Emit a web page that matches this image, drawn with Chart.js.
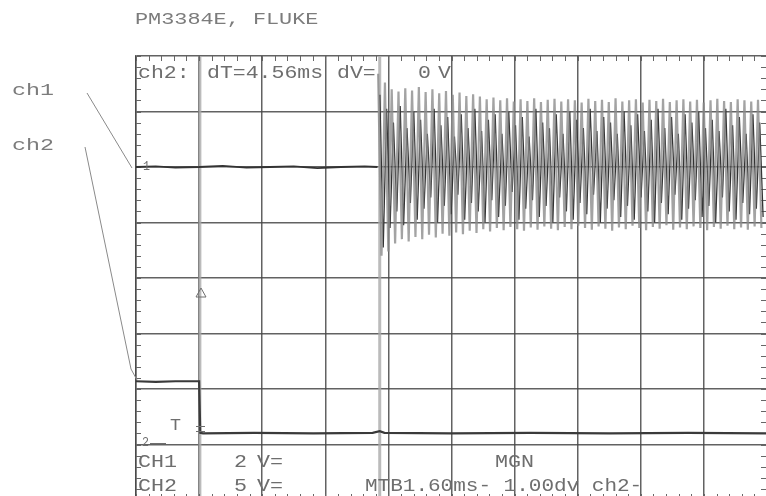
<!DOCTYPE html>
<html>
<head>
<meta charset="utf-8">
<title>PM3384E, FLUKE</title>
<script src="https://cdn.jsdelivr.net/npm/chart.js@4.4.1/dist/chart.umd.min.js"></script>
<style>
  html, body { margin: 0; padding: 0; background: #fff; overflow: hidden; }
  #wrap { position: absolute; left: 0; top: 0; width: 800px; height: 520px; }
</style>
</head>
<body>
<div id="wrap"><canvas id="scope" width="800" height="520"></canvas></div>
<script>
// Time axis in ms (MTB 1.60 ms/div), vertical in screen divisions (8 div high)
const timeTicks = [0, 1.6, 3.2, 4.8, 6.4, 8.0, 9.6, 11.2, 12.8, 14.4, 16.0];
const divMin = -4, divMax = 4;

// cursors: ch2 edge and dT = 4.56 ms later
const cursorStart = 1.62;
const cursorDelta = 4.56;

// ch1 before the burst (flat at +2 div)
const ch1FlatTimes  = [0, 0.5, 1.0, 1.6, 2.2, 2.8, 3.4, 4.0, 4.6, 5.2, 5.8, 6.12];
const ch1FlatValues = [2.0, 2.01, 1.99, 2.0, 2.02, 1.99, 2.0, 2.01, 1.98, 2.0, 2.01, 2.0];

// ch1 burst (light = gray envelope, dark = bright trace)
const burstStart = 6.14;     // ms
const burstStep = 0.086;     // ms between successive peaks (scope sample clock)
const lightTops = [3.68, 3.52, 3.40, 3.36, 3.42, 3.38, 3.44, 3.35, 3.40, 3.33, 3.37, 3.30, 3.34, 3.28, 3.31, 3.27, 3.22, 3.25, 3.20, 3.24,
  3.18, 3.22, 3.19, 3.24, 3.17, 3.21, 3.23, 3.18, 3.22, 3.20, 3.16, 3.23, 3.19, 3.21, 3.17, 3.24, 3.18, 3.20, 3.22, 3.16,
  3.21, 3.19, 3.23, 3.17, 3.20, 3.22, 3.18, 3.21, 3.16, 3.20, 3.23, 3.19, 3.17, 3.22, 3.20, 3.18, 3.21];
const lightBottoms = [0.40, 0.48, 0.62, 0.70, 0.66, 0.74, 0.70, 0.78, 0.73, 0.80, 0.76, 0.82, 0.79, 0.85, 0.81, 0.88, 0.84, 0.90, 0.86, 0.92,
  0.88, 0.85, 0.91, 0.87, 0.93, 0.89, 0.86, 0.92, 0.88, 0.94, 0.90, 0.87, 0.93, 0.89, 0.85, 0.91, 0.88, 0.94, 0.90, 0.86,
  0.92, 0.89, 0.95, 0.87, 0.91, 0.88, 0.93, 0.90, 0.86, 0.92, 0.89, 0.94, 0.88, 0.91, 0.87, 0.93, 0.90];
const darkTops = [3.30, 3.05, 2.80, 3.10, 2.70, 3.00, 2.85, 2.60, 3.05, 2.75, 2.90, 2.55, 2.95, 2.70, 3.05, 2.65, 2.85, 2.95, 2.60, 3.00,
  2.75, 2.90, 2.55, 3.05, 2.80, 2.70, 2.95, 2.60, 3.00, 2.85, 2.70, 3.05, 2.65, 2.90, 2.80, 2.60, 3.00, 2.75, 2.95, 2.65,
  2.85, 3.05, 2.70, 2.90, 2.60, 2.95, 2.80, 3.00, 2.70, 2.85, 2.65, 3.05, 2.75, 2.90, 2.60, 2.95, 2.80];
const darkBottoms = [0.55, 0.90, 1.20, 0.95, 1.35, 1.05, 1.25, 1.45, 1.00, 1.30, 1.15, 1.50, 1.05, 1.35, 1.20, 1.00, 1.40, 1.10, 1.30, 1.55,
  1.05, 1.25, 1.40, 1.10, 1.30, 1.00, 1.45, 1.20, 1.05, 1.35, 1.15, 1.50, 1.00, 1.25, 1.40, 1.10, 1.30, 1.05, 1.45, 1.20,
  1.00, 1.35, 1.15, 1.50, 1.05, 1.25, 1.40, 1.10, 1.30, 1.00, 1.45, 1.20, 1.05, 1.35, 1.15, 1.25, 1.10];

// ch2 step (5 V/div)
const ch2Times  = [0, 0.5, 1.0, 1.6, 1.63, 1.7, 3.0, 4.5, 6.0, 6.18, 6.3, 8.0, 10.0, 12.0, 14.0, 16.0];
const ch2Values = [-1.86, -1.87, -1.86, -1.86, -2.79, -2.80, -2.79, -2.80, -2.79, -2.76, -2.79, -2.80, -2.79, -2.80, -2.79, -2.80];

function zip(xs, ys) { return xs.map((x, i) => ({ x: x, y: ys[i] })); }

function burst(tops, bottoms, start) {
  const pts = [];
  tops.forEach((t, i) => {
    pts.push({ x: start + 2 * i * burstStep, y: t });
    pts.push({ x: start + (2 * i + 1) * burstStep, y: bottoms[i] });
  });
  return pts;
}

const GRID = 'rgba(70,70,70,0.85)';
const TEXT = '#7c7c7c';

// stretched monospace text like the scope print-out
function label(ctx, str, x, y, size, charW) {
  ctx.save();
  ctx.font = size + 'px "Liberation Mono"';
  const sx = charW / ctx.measureText('M').width;
  ctx.translate(x, y);
  ctx.scale(sx, 1);
  ctx.fillText(str, 0, 0);
  ctx.restore();
}

const scopeDecor = {
  id: 'scopeDecor',
  beforeDatasetsDraw(chart) {
    const ctx = chart.ctx, a = chart.chartArea;
    const xs = chart.scales.x, ys = chart.scales.y;
    ctx.save();
    // cursor lines
    ctx.strokeStyle = 'rgba(170,170,170,0.8)';
    ctx.lineWidth = 3;
    [cursorStart, cursorStart + cursorDelta].forEach(t => {
      const px = xs.getPixelForValue(t);
      ctx.beginPath(); ctx.moveTo(px, a.top); ctx.lineTo(px, a.bottom); ctx.stroke();
    });
    // minor ticks on the frame (5 per division)
    ctx.strokeStyle = '#666';
    ctx.lineWidth = 1;
    for (let i = 0; i <= 50; i++) {
      const px = Math.round(xs.getPixelForValue(i * 0.32)) + 0.5;
      ctx.beginPath();
      ctx.moveTo(px, a.top); ctx.lineTo(px, a.top + 5);
      ctx.moveTo(px, a.bottom); ctx.lineTo(px, a.bottom - 6);
      ctx.stroke();
    }
    for (let i = 0; i <= 40; i++) {
      const py = Math.round(ys.getPixelForValue(divMin + i * 0.2)) + 0.5;
      ctx.beginPath();
      ctx.moveTo(a.left, py); ctx.lineTo(a.left + 5, py);
      ctx.moveTo(a.right, py); ctx.lineTo(a.right - 6, py);
      ctx.stroke();
    }
    ctx.restore();
  },
  afterDraw(chart) {
    const ctx = chart.ctx;
    ctx.save();
    ctx.fillStyle = TEXT;
    ctx.textBaseline = 'alphabetic';
    label(ctx, 'PM3384E, FLUKE', 135, 24, 16, 13.1);
    label(ctx, 'ch1', 12, 95, 17, 14);
    label(ctx, 'ch2', 12, 150, 17, 14);

    ctx.fillStyle = '#6e6e6e';
    label(ctx, 'ch2:', 138, 78, 18, 12.9);
    label(ctx, 'dT=4.56ms', 207, 78, 18, 12.9);
    label(ctx, 'dV=', 337, 78, 18, 12.9);
    label(ctx, '0', 418, 78, 18, 12.9);
    label(ctx, 'V', 438, 78, 18, 12.9);

    label(ctx, 'CH1', 138, 467, 19, 13);
    label(ctx, '2', 234, 467, 19, 13);
    label(ctx, 'V=', 257, 467, 19, 13);
    label(ctx, 'MGN', 495, 467, 19, 13);
    label(ctx, 'CH2', 138, 491, 19, 13);
    label(ctx, '5', 234, 491, 19, 13);
    label(ctx, 'V=', 257, 491, 19, 13);
    label(ctx, 'MTB1.60ms- 1.00dv ch2-', 365, 491, 19, 12.6);

    // channel markers
    label(ctx, '1', 143, 170, 12, 7);
    label(ctx, 'T', 170, 430, 17, 11);
    label(ctx, '2', 142, 446, 12, 7);
    ctx.strokeStyle = '#6e6e6e';
    ctx.lineWidth = 1;
    ctx.beginPath(); ctx.moveTo(150, 443.5); ctx.lineTo(166, 443.5); ctx.stroke();
    // trigger marker
    ctx.beginPath(); ctx.moveTo(201, 288); ctx.lineTo(206, 297); ctx.lineTo(196, 297); ctx.closePath(); ctx.stroke();
    ctx.beginPath();
    ctx.moveTo(196, 426.5); ctx.lineTo(205, 426.5);
    ctx.moveTo(196, 431.5); ctx.lineTo(205, 431.5);
    ctx.stroke();

    // pointer lines from the channel names
    ctx.strokeStyle = '#8a8a8a';
    ctx.beginPath(); ctx.moveTo(87, 93); ctx.lineTo(132, 168); ctx.stroke();
    ctx.beginPath(); ctx.moveTo(85, 147); ctx.lineTo(131, 369); ctx.lineTo(137, 380); ctx.stroke();
    ctx.restore();
  }
};

new Chart(document.getElementById('scope'), {
  type: 'line',
  data: {
    datasets: [
      { label: 'ch1 envelope', data: burst(lightTops, lightBottoms, burstStart), borderColor: 'rgba(140,140,140,0.8)', borderWidth: 2.2 },
      { label: 'ch1', data: burst(darkTops, darkBottoms, burstStart + burstStep / 2), borderColor: '#333', borderWidth: 1.3 },
      { label: 'ch1 flat', data: zip(ch1FlatTimes, ch1FlatValues), borderColor: '#333', borderWidth: 1.8 },
      { label: 'ch2', data: zip(ch2Times, ch2Values), borderColor: '#3a3a3a', borderWidth: 2.2 }
    ]
  },
  options: {
    responsive: false,
    animation: false,
    devicePixelRatio: 1,
    layout: { padding: { left: 136, top: 56, right: 33, bottom: 20 } },
    elements: { point: { radius: 0 }, line: { tension: 0, fill: false } },
    plugins: { legend: { display: false }, tooltip: { enabled: false } },
    scales: {
      x: {
        type: 'linear', min: 0, max: 16,
        afterBuildTicks: s => { s.ticks = timeTicks.map(v => ({ value: v })); },
        ticks: { display: false },
        grid: { color: GRID, lineWidth: 1.5, drawTicks: false },
        border: { display: true, color: GRID, width: 1.5 }
      },
      y: {
        type: 'linear', min: divMin, max: divMax,
        ticks: { display: false, stepSize: 1 },
        grid: { color: GRID, lineWidth: 1.5, drawTicks: false },
        border: { display: true, color: GRID, width: 1.5 }
      }
    }
  },
  plugins: [scopeDecor]
});
</script>
</body>
</html>
